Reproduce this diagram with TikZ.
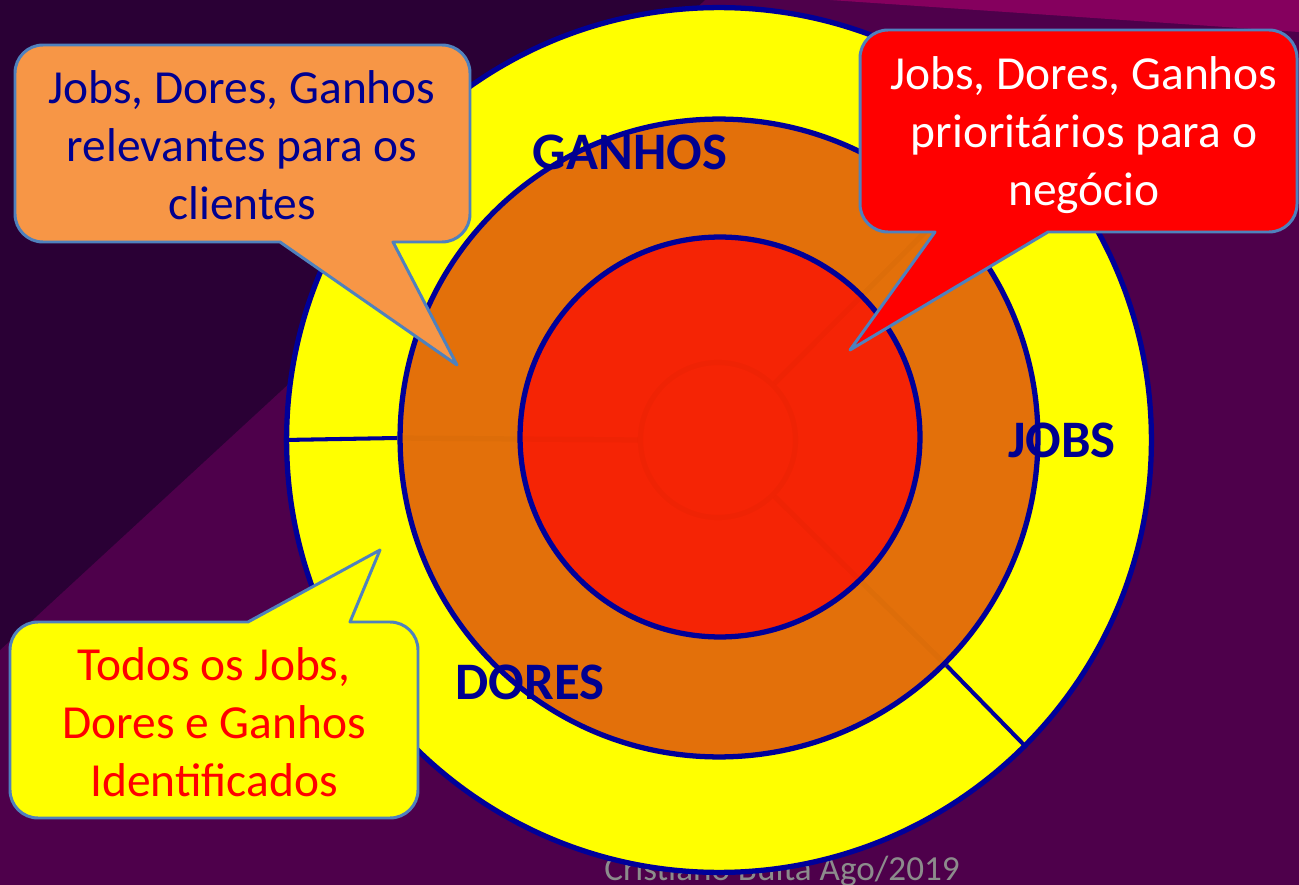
\documentclass[tikz,border=0pt]{standalone}
\usepackage{fontspec}
\setmainfont{Carlito}
\usepackage{tikz}

\definecolor{bgdark}{HTML}{2A0035}
\definecolor{bgband}{HTML}{4E004B}
\definecolor{bgpink}{HTML}{85005E}
\definecolor{ringline}{HTML}{000099}
\definecolor{ringyellow}{HTML}{FFFF00}
\definecolor{ringorange}{HTML}{E3700A}
\definecolor{ringred}{HTML}{F52405}
\definecolor{callline}{HTML}{4F81BD}
\definecolor{callorange}{HTML}{F79646}
\definecolor{labelblue}{HTML}{000090}
\definecolor{footgray}{HTML}{8C8C8C}

\begin{document}
\begin{tikzpicture}[x=0.02cm,y=0.02cm,
    ring/.style={circle,draw=ringline,line width=3pt,inner sep=0pt},
    ghost/.style={draw=black,opacity=0.025,line width=3pt},
    callout/.style={draw=callline,line width=1.7pt,line join=round},
    calltext/.style={align=center,font=\fontsize{27}{33}\selectfont},
    zone/.style={text=labelblue,font=\fontsize{30}{36}\selectfont\bfseries}]

    \useasboundingbox (0,0) rectangle (1299,-885);
    \fill[bgband] (0,0) rectangle (1299,-885);
    \fill[bgdark] (0,0) -- (705,0) -- (0,-650) -- cycle;
    \fill[bgpink] (830,0) -- (1299,0) -- (1299,-32) -- cycle;

    \node[text=footgray,font=\fontsize{20}{24}\selectfont,anchor=base east] (rodape) at (966,-880) {Cristiano Buita Ago/2019};

    \node[ring,fill=ringyellow,minimum size=17.3cm] (todos) at (719,-440) {};
    \node[ring,fill=ringorange,minimum size=12.76cm] (relevantes) at (719,-438) {};
    \node[ring,fill=ringred,minimum size=8cm] (prioritarios) at (720,-437) {};
    \node[circle,ghost,minimum size=3.1cm] (nucleo) at (718,-440) {};
    \draw[ghost] (nucleo.180) -- (relevantes.180);
    \draw[ghost] (nucleo.45) -- (relevantes.45);
    \draw[ghost] (nucleo.-45) -- (relevantes.-45);

    \draw[draw=ringline,line width=2.3pt] (todos.180) -- (relevantes.180);
    \draw[draw=ringline,line width=2.3pt] (relevantes.-45) -- (todos.-45);

    \node[zone] (ganhos) at (630,-152) {GANHOS};
    \node[zone] (jobs) at (1062,-440) {JOBS};
    \node[zone] (dores) at (530,-682) {DORES};

    \draw[callout,fill=callorange] (280,-242) -- (457,-365) -- (393,-242) -- (442,-242)
      arc[start angle=-90,end angle=0,radius=28] -- (470,-73)
      arc[start angle=0,end angle=90,radius=28] -- (43,-45)
      arc[start angle=90,end angle=180,radius=28] -- (15,-214)
      arc[start angle=180,end angle=270,radius=28] -- cycle;
    \node[calltext,text=labelblue] (clientes) at (242,-145) {Jobs, Dores, Ganhos\\relevantes para os\\clientes};

    \draw[callout,fill=red] (935,-232) -- (850,-350) -- (1048,-232) -- (1269,-232)
      arc[start angle=-90,end angle=0,radius=28] -- (1297,-58)
      arc[start angle=0,end angle=90,radius=28] -- (888,-30)
      arc[start angle=90,end angle=180,radius=28] -- (860,-204)
      arc[start angle=180,end angle=270,radius=28] -- cycle;
    \node[calltext,text=white] (negocio) at (1084,-135) {Jobs, Dores, Ganhos\\prioritários para o\\negócio};

    \draw[callout,fill=ringyellow] (248,-622) -- (380,-550) -- (350,-622) -- (390,-622)
      arc[start angle=90,end angle=0,radius=28] -- (418,-790)
      arc[start angle=0,end angle=-90,radius=28] -- (38,-818)
      arc[start angle=-90,end angle=-180,radius=28] -- (10,-650)
      arc[start angle=180,end angle=90,radius=28] -- cycle;
    \node[calltext,text=red] (identificados) at (214,-722) {Todos os Jobs,\\Dores e Ganhos\\Identificados};
\end{tikzpicture}
\end{document}
